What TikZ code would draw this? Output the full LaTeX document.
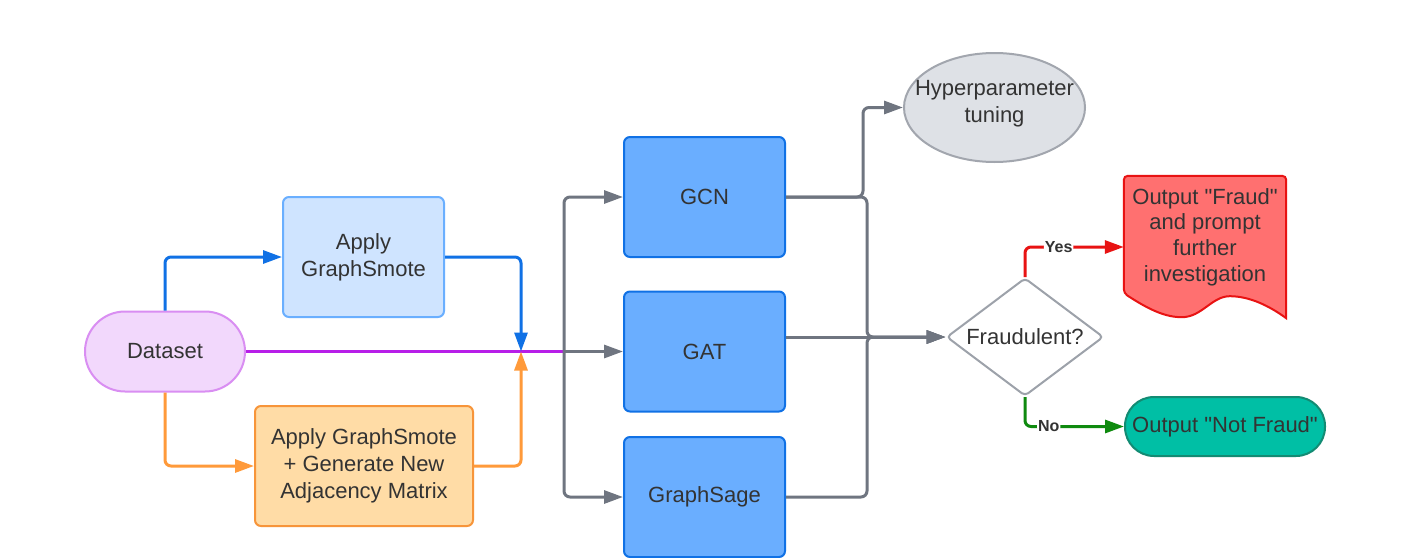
\documentclass[tikz,border=0pt]{standalone}
\usepackage{fontspec}
\setmainfont{Liberation Sans}[Ligatures=TeXOff]
\usetikzlibrary{arrows.meta,shapes.geometric,calc}
\definecolor{txt}{HTML}{333333}
\definecolor{dsfill}{HTML}{F2D8FC}
\definecolor{dsline}{HTML}{D98EF2}
\definecolor{apfill}{HTML}{CFE4FF}
\definecolor{apline}{HTML}{6AAFFF}
\definecolor{orfill}{HTML}{FFDCA6}
\definecolor{orline}{HTML}{F7953A}
\definecolor{modfill}{HTML}{6AAEFF}
\definecolor{modline}{HTML}{1071E5}
\definecolor{hypfill}{HTML}{DEE1E6}
\definecolor{hypline}{HTML}{A2A6AE}
\definecolor{dialine}{HTML}{9DA2AA}
\definecolor{redfill}{HTML}{FF7070}
\definecolor{redline}{HTML}{E81313}
\definecolor{okfill}{HTML}{00BFA5}
\definecolor{okline}{HTML}{138B73}
\definecolor{blueln}{HTML}{1071E5}
\definecolor{orln}{HTML}{FF9A3A}
\definecolor{purln}{HTML}{B71EE8}
\definecolor{grayln}{HTML}{6F7580}
\definecolor{redln}{HTML}{E81313}
\definecolor{grnln}{HTML}{0F8A0F}
\begin{document}
\begin{tikzpicture}[x=1pt,y=-1pt,
  box/.style={rectangle, line width=2pt, rounded corners=6pt, align=center, text=txt,
    font=\fontsize{22}{27}\selectfont, inner sep=0pt},
  modbox/.style={box, fill=modfill, draw=modline, minimum width=161pt, minimum height=120pt},
  conn/.style={line width=3pt, rounded corners=6pt, -{Triangle[length=19pt,width=13pt]}},
  lbl/.style={fill=white, text=txt, font=\fontsize{16}{18}\selectfont\bfseries, inner sep=1pt},
  intext/.style={align=center, text=txt, font=\fontsize{22}{27}\selectfont}
]
\fill[white] (0,0) rectangle (1410,557);
\useasboundingbox (0,0) rectangle (1410,557);

% nodes
\node[box, fill=dsfill, draw=dsline, minimum width=160pt, minimum height=80pt, rounded corners=40pt] (ds) at (165,351.5) {Dataset};
\node[box, fill=apfill, draw=apline, minimum width=161pt, minimum height=120pt] (apply) at (363.5,257) {Apply\\GraphSmote};
\node[box, fill=orfill, draw=orline, minimum width=218pt, minimum height=120pt] (org) at (364,466) {Apply GraphSmote\\+ Generate New\\Adjacency Matrix};
\node[modbox] (gcn) at (704.5,197) {GCN};
\node[modbox] (gat) at (704.5,351.5) {GAT};
\node[modbox] (gs) at (704.5,497) {GraphSage};
\node[ellipse, fill=hypfill, draw=hypline, line width=2pt, minimum width=181pt, minimum height=109pt, inner sep=0pt,
  label={[intext, yshift=4pt]center:Hyperparameter\\tuning}] (hyp) at (994.5,107.5) {};
\node[diamond, fill=white, draw=dialine, line width=2pt, minimum width=157pt, minimum height=118pt, inner sep=0pt,
  rounded corners=4pt, label={[intext]center:Fraudulent?}] (dia) at (1025,337) {};
\node[rectangle, minimum width=162pt, minimum height=142pt, inner sep=0pt] (red) at (1205,247) {};
\fill[redfill, draw=redline, line width=2pt, rounded corners=4pt]
  (red.south east) -- (red.north east) -- (red.north west) -- ($(red.south west)+(0,-25)$)
  [sharp corners] .. controls ($(red.south west)+(26,-8)$) and ($(red.south west)+(42,-1)$) .. ($(red.south west)+(58,-1)$)
  .. controls ($(red.south west)+(78,-1)$) and ($(red.south west)+(88,-22)$) .. ($(red.south west)+(106,-22)$)
  .. controls ($(red.south west)+(126,-22)$) and ($(red.south west)+(146,-12)$) .. (red.south east) -- cycle;
\node[intext, font=\fontsize{22}{25.7}\selectfont] (redtxt) at ($(red.center)+(0,-10)$) {Output "Fraud"\\and prompt\\further\\investigation};
\node[box, fill=okfill, draw=okline, minimum width=200pt, minimum height=59pt, rounded corners=29pt] (ok) at (1225,426.5) {Output "Not Fraud"};

% coordinates
\coordinate (m) at (521,351.5);
\coordinate (j) at (564,351.5);
\coordinate (bus) at (867,337);
\coordinate (hb) at (863,107.5);

% left connectors
\draw[line width=3pt, purln] (ds.east) -- (j);
\draw[conn, blueln] (ds.north) |- (apply.west);
\draw[conn, blueln] (apply.east) -| (m);
\draw[conn, orln] (ds.south) |- (org.west);
\draw[conn, orln] (org.east) -| (m);
\draw[conn, grayln] (j) |- (gcn.west);
\draw[conn, grayln] (j) -- (gat.west);
\draw[conn, grayln] (j) |- (gs.west);

% right connectors
\draw[conn, grayln] (gcn.east) -| (hb) -- (hyp.west);
\draw[conn, grayln] (gcn.east) -| (bus) -- (dia.west);
\draw[conn, grayln] (gs.east) -| (bus) -- (dia.west);
\draw[conn, grayln] (gat.east |- bus) -- (dia.west);

\draw[conn, redln] (dia.north) |- node[lbl, pos=0.67] {Yes} (red.west);
\draw[conn, grnln] (dia.south) |- node[lbl, pos=0.62] {No} (ok.west);
\end{tikzpicture}
\end{document}
